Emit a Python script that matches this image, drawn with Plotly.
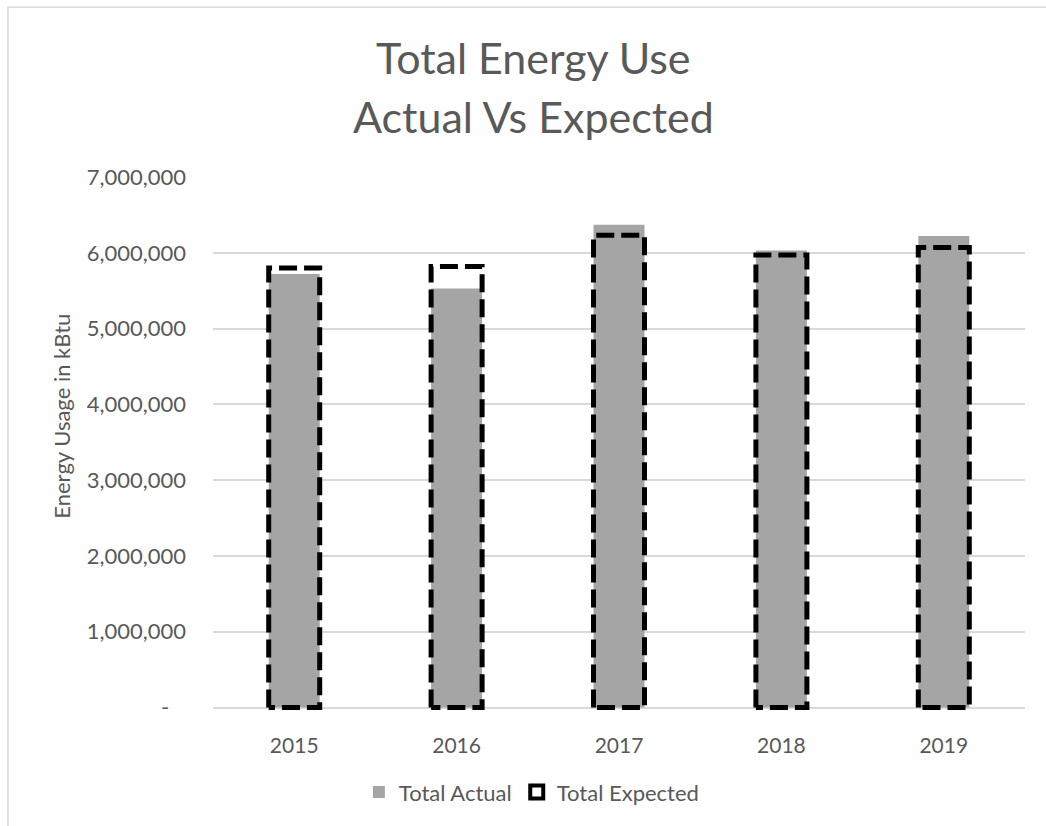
import plotly.graph_objects as go

# Annual totals in kBtu
years = ["2015", "2016", "2017", "2018", "2019"]
total_actual = [5720000, 5530000, 6370000, 6030000, 6220000]
total_expected = [5800000, 5820000, 6230000, 5970000, 6070000]

y_ticks = [0, 1000000, 2000000, 3000000, 4000000, 5000000, 6000000, 7000000]
y_tick_text = ["-\u00a0\u00a0\u00a0", "1,000,000", "2,000,000", "3,000,000",
               "4,000,000", "5,000,000", "6,000,000", "7,000,000"]

FONT = "Lato"
TEXT = "#595959"
GRID = "#D9D9D9"
BAR_W = 0.314
half = BAR_W / 2

positions = list(range(len(years)))

fig = go.Figure()

fig.add_trace(go.Bar(
    x=positions, y=total_actual, width=BAR_W,
    marker=dict(color="#A5A5A5", line=dict(width=0)),
    name="Total Actual",
))

# Expected values drawn as dashed, unfilled bar outlines
ox, oy = [], []
for i, v in zip(positions, total_expected):
    ox += [i - half, i - half, i + half, i + half, i - half, None]
    oy += [0, v, v, 0, 0, None]
fig.add_trace(go.Scatter(
    x=ox, y=oy, mode="lines",
    line=dict(color="black", width=5, dash="18px,7px"),
    showlegend=False, hoverinfo="skip",
))
fig.add_trace(go.Scatter(
    x=[None], y=[None], mode="markers", name="Total Expected",
    marker=dict(symbol="square-open", size=13, color="black",
                line=dict(width=4, color="black")),
))

fig.update_layout(
    width=1046, height=826,
    margin=dict(l=213, r=21, t=177, b=115),
    paper_bgcolor="white", plot_bgcolor="white",
    font=dict(family=FONT, color=TEXT, size=22),
    barmode="overlay",
    showlegend=True,
    legend=dict(orientation="h", xref="container", yref="container",
                x=0.508, xanchor="center", y=0.041, yanchor="middle",
                font=dict(family=FONT, size=22, color=TEXT),
                itemwidth=30, traceorder="normal"),
    xaxis=dict(range=[-0.5, 4.5], tickvals=positions, ticktext=years,
               showgrid=False, zeroline=False, showline=False, ticks="",
               ticklabelstandoff=20, tickfont=dict(size=21, color=TEXT)),
    yaxis=dict(range=[-45000, 7000000], tickvals=y_ticks, ticktext=y_tick_text,
               showgrid=True, gridcolor=GRID, gridwidth=1.5,
               zeroline=True, zerolinecolor=GRID, zerolinewidth=1.5,
               showline=False, ticks="", ticklabelstandoff=26,
               tickfont=dict(size=22, color=TEXT)),
    annotations=[
        dict(text="Total Energy Use", xref="paper", yref="paper",
             x=0.395, y=1.224, xanchor="center", yanchor="middle",
             showarrow=False, font=dict(family=FONT, size=43, color=TEXT)),
        dict(text="Actual Vs Expected", xref="paper", yref="paper",
             x=0.395, y=1.114, xanchor="center", yanchor="middle",
             showarrow=False, font=dict(family=FONT, size=43, color=TEXT)),
        dict(text="Energy Usage in kBtu", xref="paper", yref="paper",
             x=-0.186, y=0.553, xanchor="center", yanchor="middle",
             textangle=-90, showarrow=False,
             font=dict(family=FONT, size=22, color=TEXT)),
    ],
    shapes=[
        dict(type="rect", xref="paper", yref="paper",
             x0=-0.2525, x1=1.04, y0=-0.23, y1=1.318,
             line=dict(color=GRID, width=1.5), fillcolor="rgba(0,0,0,0)",
             layer="below"),
    ],
)

fig.write_html("out.html")
